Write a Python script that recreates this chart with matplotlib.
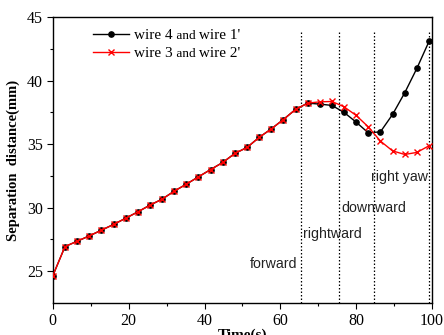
import matplotlib
matplotlib.use('Agg')
import matplotlib.pyplot as plt
from matplotlib.lines import Line2D

# sample times (s), one point every 3.2 s
time_s = [0.0, 3.2, 6.4, 9.6, 12.8, 16.0, 19.2, 22.4, 25.6, 28.8, 32.0,
          35.2, 38.4, 41.6, 44.8, 48.0, 51.2, 54.4, 57.6, 60.8, 64.0,
          67.2, 70.4, 73.6, 76.8, 80.0, 83.2, 86.4, 89.6, 92.8, 96.0, 99.2]

wire4_wire1 = [24.65, 26.94, 27.36, 27.78, 28.23, 28.68, 29.17, 29.67, 30.20,
               30.67, 31.30, 31.85, 32.43, 33.00, 33.56, 34.27, 34.74, 35.53,
               36.20, 36.94, 37.73, 38.23, 38.15, 38.05, 37.50, 36.73, 35.89,
               35.97, 37.34, 39.04, 40.96, 43.08]

wire3_wire2 = [24.65, 26.94, 27.36, 27.78, 28.23, 28.68, 29.17, 29.67, 30.20,
               30.67, 31.30, 31.85, 32.43, 33.00, 33.56, 34.27, 34.74, 35.53,
               36.20, 36.94, 37.73, 38.23, 38.33, 38.36, 37.94, 37.26, 36.36,
               35.24, 34.47, 34.19, 34.35, 34.87]

# phase boundaries and labels
phase_bounds = [65.5, 75.6, 84.6, 99.2]
phase_names = ['forward', 'rightward', 'downward', 'right yaw']
phase_text_x = [64.5, 66.0, 76.0, 84.0]
phase_text_y = [25.6, 27.9, 30.0, 32.4]
phase_text_ha = ['right', 'left', 'left', 'left']

serif = ['Liberation Serif', 'DejaVu Serif']
sans = ['Liberation Sans', 'DejaVu Sans']

fig = plt.figure(figsize=(4.44, 3.35), dpi=100)
ax = fig.add_axes([0.119, 0.0955, 0.854, 0.8535])

ax.plot(time_s, wire4_wire1, color='black', lw=1.0, marker='o', ms=3.8,
        markerfacecolor='black', markeredgecolor='black', zorder=3)
ax.plot(time_s, wire3_wire2, color='red', lw=1.0, marker='x', ms=4.5,
        mew=1.0, zorder=4)

ax.vlines(phase_bounds, 22.5, 43.8, colors='black', linestyles=(0, (1.2, 1.6)),
          lw=0.9, zorder=2)
for name, tx, ty, ha in zip(phase_names, phase_text_x, phase_text_y, phase_text_ha):
    ax.text(tx, ty, name, ha=ha, va='center', fontsize=10.2, family=sans,
            color='#222222')

ax.set_xlim(0, 100)
ax.set_ylim(22.5, 45)
ax.set_xticks([0, 20, 40, 60, 80, 100])
ax.set_xticks([10, 30, 50, 70, 90], minor=True)
ax.set_yticks([25, 30, 35, 40, 45])
ax.set_yticks([27.5, 32.5, 37.5, 42.5], minor=True)
ax.tick_params(which='major', direction='out', length=4, width=0.8, pad=3,
               labelsize=11.5, top=False, right=False)
ax.tick_params(which='minor', direction='out', length=2.5, width=0.8,
               top=False, right=False)
for lab in ax.get_xticklabels() + ax.get_yticklabels():
    lab.set_family(serif)
for sp in ax.spines.values():
    sp.set_linewidth(1.0)

ax.set_xlabel('Time(s)', fontsize=11, fontweight='bold', family=serif, labelpad=0)
ax.set_ylabel('Separation  distance(mm)', fontsize=10.5, fontweight='bold',
              family=serif, labelpad=5)

handles = [Line2D([], [], color='black', lw=1.0, marker='o', ms=3.8),
           Line2D([], [], color='red', lw=1.0, marker='x', ms=4.5, mew=1.0)]
leg = ax.legend(handles, ['wire 4', 'wire 3'], loc='upper left',
                bbox_to_anchor=(0.105, 0.96), frameon=False, borderaxespad=0,
                borderpad=0, prop={'family': serif, 'size': 11},
                handlelength=2.4, handletextpad=0.3, labelspacing=0.28)

# draw once so the legend texts have their final positions
fig.canvas.draw()
tails = [" wire 1'", " wire 2'"]
for txt, tail in zip(leg.get_texts(), tails):
    mid = ax.annotate(' and', xy=(1, 0.04), xycoords=txt, va='bottom', ha='left',
                      fontsize=9.5, family=serif)
    ax.annotate(tail, xy=(1, -0.04), xycoords=mid, va='bottom', ha='left',
                fontsize=11, family=serif)

fig.savefig('out.png', dpi=100)
